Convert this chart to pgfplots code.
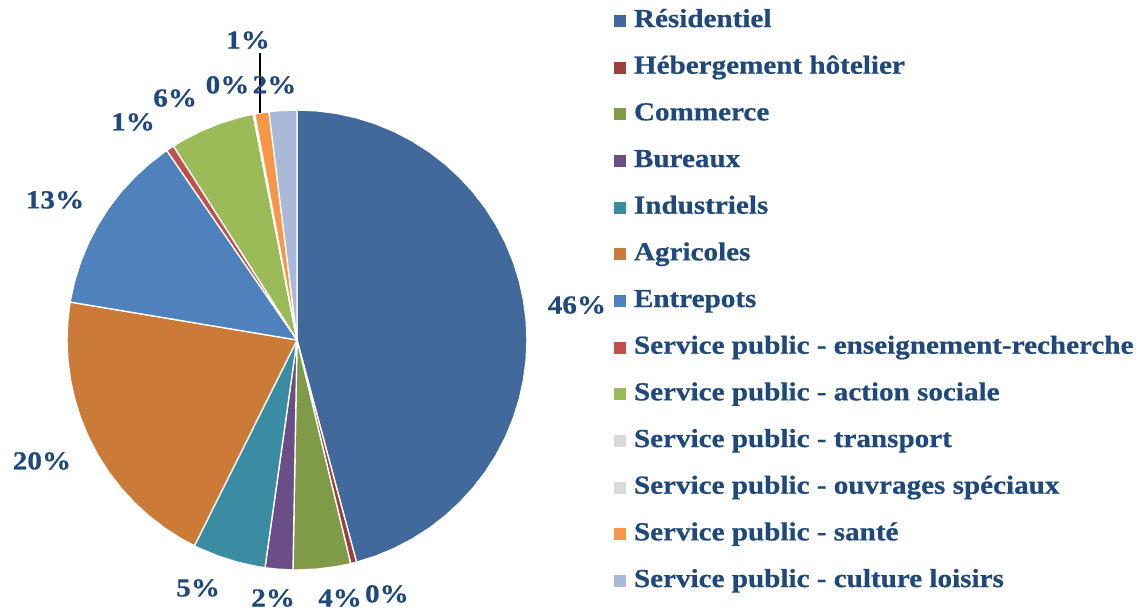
\documentclass[border=0pt]{standalone}
\usepackage{fontspec}
\setmainfont{Liberation Serif}[FakeStretch=1.12, BoldFeatures={FakeStretch=1.12, FakeBold=0.6}]
\usepackage{pgfplots}
\pgfplotsset{compat=1.18}
\definecolor{txt}{HTML}{1F497D}
\definecolor{cRes}{HTML}{41699C}
\definecolor{cHeb}{HTML}{9E3F3B}
\definecolor{cCom}{HTML}{7F9B48}
\definecolor{cBur}{HTML}{6A4E85}
\definecolor{cInd}{HTML}{3A8CA3}
\definecolor{cAgr}{HTML}{CB7A37}
\definecolor{cEnt}{HTML}{4F81BD}
\definecolor{cEns}{HTML}{C0504D}
\definecolor{cAct}{HTML}{9BBB59}
\definecolor{cTra}{HTML}{D9D9D9}
\definecolor{cOuv}{HTML}{DADADA}
\definecolor{cSan}{HTML}{F79646}
\definecolor{cCul}{HTML}{A9B9D7}
\newcommand{\lf}{\fontsize{19.5}{22}\selectfont\bfseries}
\begin{document}
\begin{tikzpicture}
\useasboundingbox (0,0) rectangle (857.25pt,457.5pt);
\begin{axis}[
  at={(222.75pt,202.5pt)}, anchor=center,
  width=345pt, height=345pt, scale only axis,
  xmin=-1, xmax=1, ymin=-1, ymax=1,
  hide axis, clip=false,
  every axis plot/.append style={data cs=polar, draw=white, line width=1pt, line join=round},
  legend image code/.code={\path[#1, draw=none] (0pt,-4.5pt) rectangle (9pt,4.5pt);},
  legend cell align=left,
  legend style={at={(1.1891,1.218)}, anchor=north west, draw=none, fill=none,
    inner sep=0pt, outer sep=0pt, row sep=18pt, column sep=6pt,
    font=\lf, text=txt,
    nodes={inner sep=0pt, text height=13pt, text depth=4pt}},
]
% Résidentiel 46%
\addplot[fill=cRes] coordinates {(0,0) (90,1) (85,1) (80,1) (75,1) (70,1) (65,1) (60,1) (55,1) (50,1) (45,1) (40,1) (35,1) (30,1) (25,1) (20,1) (15,1) (10,1) (5,1) (0,1) (-5,1) (-10,1) (-15,1) (-20,1) (-25,1) (-30,1) (-35,1) (-40,1) (-45,1) (-50,1) (-55,1) (-60,1) (-65,1) (-70,1) (-75,1)} -- cycle;
\addlegendentry{Résidentiel}
% Hébergement hôtelier 0%
\addplot[fill=cHeb] coordinates {(0,0) (-75,1) (-76.5,1)} -- cycle;
\addlegendentry{Hébergement hôtelier}
% Commerce 4%
\addplot[fill=cCom] coordinates {(0,0) (-76.5,1) (-80,1) (-85,1) (-90,1) (-91,1)} -- cycle;
\addlegendentry{Commerce}
% Bureaux 2%
\addplot[fill=cBur] coordinates {(0,0) (-91,1) (-95,1) (-98,1)} -- cycle;
\addlegendentry{Bureaux}
% Industriels 5%
\addplot[fill=cInd] coordinates {(0,0) (-98,1) (-100,1) (-105,1) (-110,1) (-115,1) (-116.5,1)} -- cycle;
\addlegendentry{Industriels}
% Agricoles 20%
\addplot[fill=cAgr] coordinates {(0,0) (-116.5,1) (-120,1) (-125,1) (-130,1) (-135,1) (-140,1) (-145,1) (-150,1) (-155,1) (-160,1) (-165,1) (-170,1) (-175,1) (-180,1) (-185,1) (-189.5,1)} -- cycle;
\addlegendentry{Agricoles}
% Entrepots 13%
\addplot[fill=cEnt] coordinates {(0,0) (170.5,1) (170,1) (165,1) (160,1) (155,1) (150,1) (145,1) (140,1) (135,1) (130,1) (125,1) (124.5,1)} -- cycle;
\addlegendentry{Entrepots}
% Service public - enseignement-recherche 1%
\addplot[fill=cEns] coordinates {(0,0) (124.5,1) (122.5,1)} -- cycle;
\addlegendentry{Service public - enseignement-recherche}
% Service public - action sociale 6%
\addplot[fill=cAct] coordinates {(0,0) (122.5,1) (120,1) (115,1) (110,1) (105,1) (101,1)} -- cycle;
\addlegendentry{Service public - action sociale}
% Service public - transport 0%
\addplot[fill=cTra] coordinates {(0,0) (101,1) (100.8,1)} -- cycle;
\addlegendentry{Service public - transport}
% Service public - ouvrages spéciaux 0%
\addplot[fill=cOuv] coordinates {(0,0) (100.8,1) (100.6,1)} -- cycle;
\addlegendentry{Service public - ouvrages spéciaux}
% Service public - santé 1%
\addplot[fill=cSan] coordinates {(0,0) (100.6,1) (100,1) (97,1)} -- cycle;
\addlegendentry{Service public - santé}
% Service public - culture loisirs 2%
\addplot[fill=cCul] coordinates {(0,0) (97,1) (95,1) (90,1)} -- cycle;
\addlegendentry{Service public - culture loisirs}

\draw[black, line width=1pt] (axis cs:-0.161,1.248) -- (axis cs:-0.161,0.987);
\begin{scope}[every node/.style={text=txt, font=\lf, inner sep=0pt}]
\node at (axis cs:1.217,0.152) {46\%};
\node at (axis cs:0.391,-1.104) {0\%};
\node at (axis cs:0.187,-1.122) {4\%};
\node at (axis cs:-0.104,-1.122) {2\%};
\node at (axis cs:-0.430,-1.078) {5\%};
\node at (axis cs:-1.109,-0.526) {20\%};
\node at (axis cs:-1.052,0.609) {13\%};
\node at (axis cs:-0.713,0.948) {1\%};
\node at (axis cs:-0.530,1.052) {6\%};
% transport and ouvrages spéciaux labels (both 0%) coincide
\node at (axis cs:-0.302,1.109) {0\%};
\node at (axis cs:-0.098,1.109) {2\%};
\node at (axis cs:-0.213,1.304) {1\%};
\end{scope}
\end{axis}
\end{tikzpicture}
\end{document}
